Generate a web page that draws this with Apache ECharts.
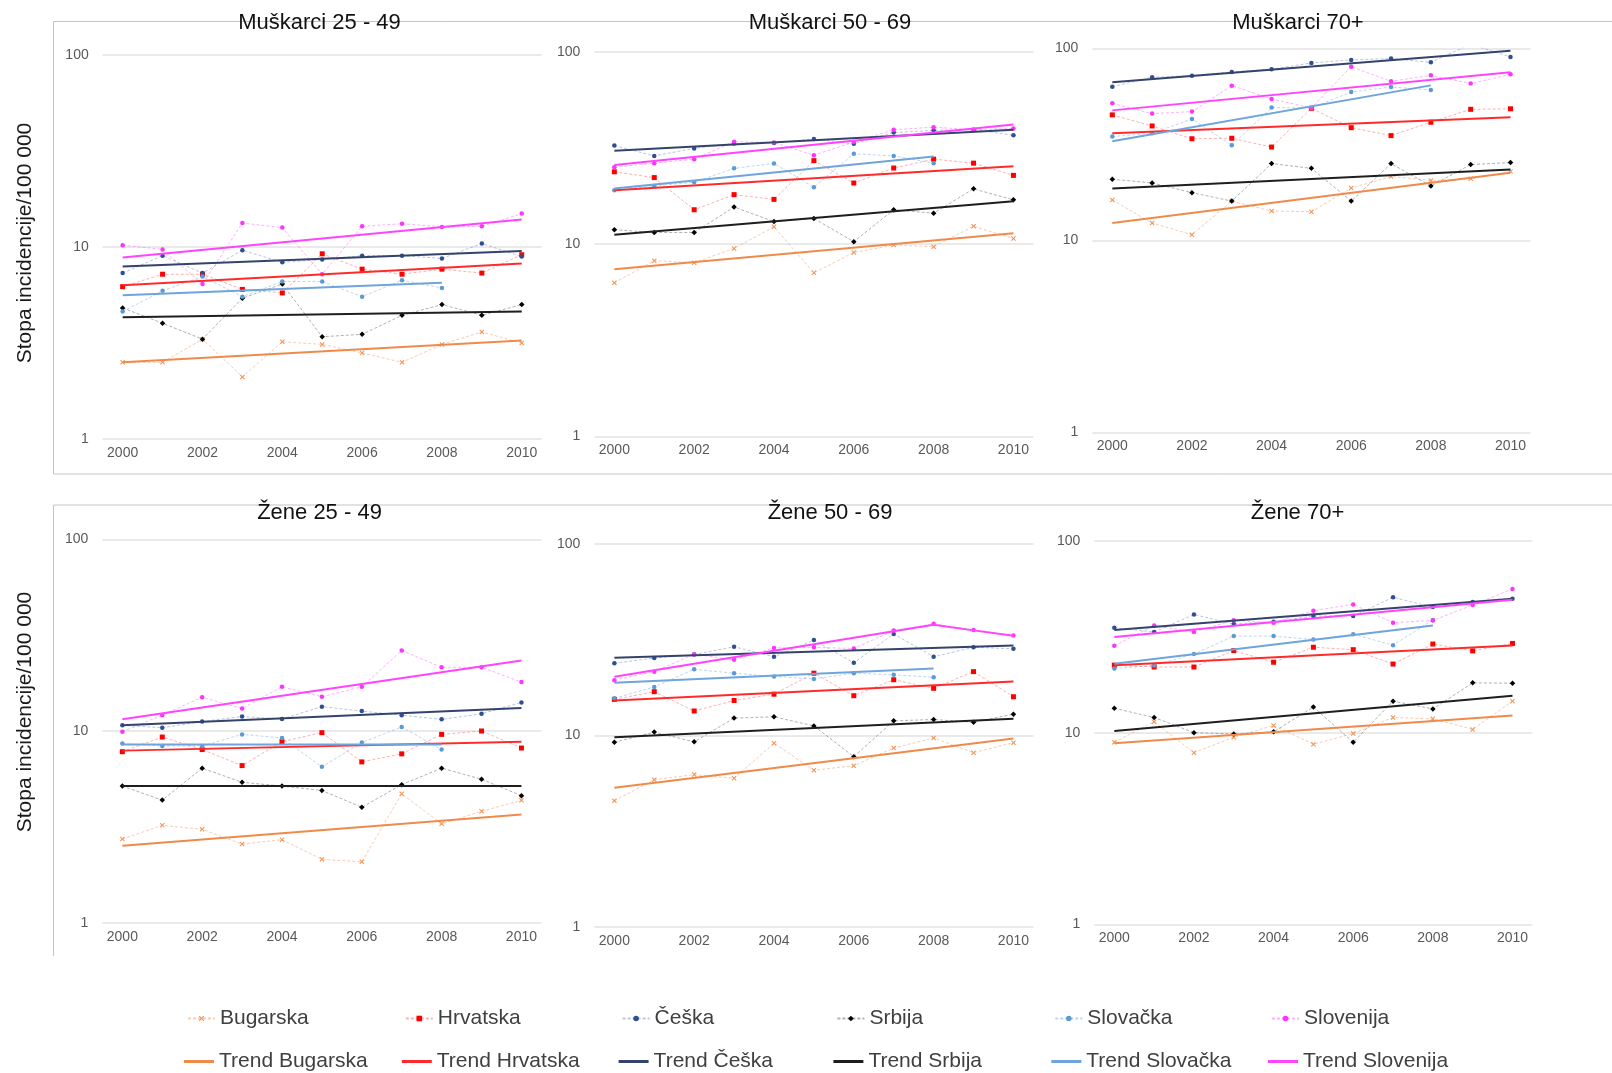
<!DOCTYPE html>
<html>
<head>
<meta charset="utf-8">
<script src="https://cdn.jsdelivr.net/npm/echarts@6/dist/echarts.min.js"></script>
<style>
html,body{margin:0;padding:0;background:#fff;}
#chart{width:1612px;height:1073px;}
</style>
</head>
<body>
<div id="chart"></div>
<script>
// ---------- DATA ----------
const years = ['2000','2001','2002','2003','2004','2005','2006','2007','2008','2009','2010'];
const countries = ['Bugarska','Hrvatska','Češka','Srbija','Slovačka','Slovenija'];
const panelTitles = ['Muškarci 25 - 49','Muškarci 50 - 69','Muškarci 70+','Žene 25 - 49','Žene 50 - 69','Žene 70+'];
const yAxisName = 'Stopa incidencije/100 000';
const _ = null;

// rows: Bugarska, Hrvatska, Češka, Srbija, Slovačka, Slovenija
const valuesM2549 = [
  [2.5, 2.5, 3.3, 2.1, 3.2, 3.1, 2.8, 2.5, 3.1, 3.6, 3.15],
  [6.2, 7.2, 7.2, 6.0, 5.75, 9.2, 7.65, 7.2, 7.65, 7.3, 9.1],
  [7.3, 9.0, 7.3, 9.6, 8.3, 8.6, 9.0, 9.0, 8.7, 10.4, 8.9],
  [4.8, 4.0, 3.3, 5.4, 6.4, 3.4, 3.5, 4.4, 5.0, 4.4, 5.0],
  [4.6, 5.9, 7.0, 5.5, 6.6, 6.6, 5.5, 6.7, 6.1, _, _],
  [10.2, 9.7, 6.4, 13.3, 12.6, 7.2, 12.8, 13.2, 12.7, 12.8, 14.9]
];
const trendM2549 = [
  [2.5, _, _, _, _, _, _, _, _, _, 3.25],
  [6.3, _, _, _, _, _, _, _, _, _, 8.2],
  [7.9, _, _, _, _, _, _, _, _, _, 9.5],
  [4.3, _, _, _, _, _, _, _, _, _, 4.6],
  [5.6, _, _, _, _, _, _, _, 6.5, _, _],
  [8.8, _, _, _, _, _, _, _, _, _, 13.9]
];

const valuesM5069 = [
  [6.3, 8.2, 8.0, 9.5, 12.3, 7.1, 9.05, 9.9, 9.7, 12.4, 10.7],
  [23.8, 22.2, 15.1, 18.1, 17.1, 27.2, 20.8, 24.9, 27.7, 26.4, 22.8],
  [32.6, 28.8, 31.5, 33.4, 33.6, 35.3, 33.3, 38.1, 39.1, 39.4, 36.9],
  [11.9, 11.5, 11.5, 15.6, 13.1, 13.6, 10.3, 15.1, 14.5, 19.4, 17.0],
  [19.1, 20.1, 21.0, 24.8, 26.3, 19.8, 29.5, 28.8, 26.4, _, _],
  [25.1, 26.4, 27.7, 34.1, 33.8, 29.0, 34.0, 39.4, 40.6, 39.4, 40.0]
];
const trendM5069 = [
  [7.4, _, _, _, _, _, _, _, _, _, 11.4],
  [19.1, _, _, _, _, _, _, _, _, _, 25.4],
  [30.6, _, _, _, _, _, _, _, _, _, 39.4],
  [11.2, _, _, _, _, _, _, _, _, _, 16.7],
  [19.5, _, _, _, _, _, _, _, 28.6, _, _],
  [25.8, _, _, _, _, _, _, _, _, _, 42.0]
];

const valuesM70 = [
  [16.2, 12.3, 10.7, 16.0, 14.2, 14.1, 18.7, 21.5, 20.5, 20.9, 22.8],
  [45.0, 39.4, 33.8, 34.0, 30.6, 48.7, 38.6, 35.1, 41.2, 48.1, 48.4],
  [63.1, 70.6, 72.0, 75.3, 77.8, 83.9, 87.0, 88.4, 84.5, 105, 90.1],
  [20.8, 19.9, 17.7, 16.0, 25.1, 23.7, 16.0, 25.1, 19.2, 24.8, 25.4],
  [34.7, 36.1, 42.8, 31.3, 49.1, 48.9, 59.2, 62.9, 60.7, _, _],
  [51.7, 45.7, 46.8, 63.9, 54.5, 48.9, 80.2, 67.3, 72.3, 65.5, 73.2]
];
const trendM70 = [
  [12.3, _, _, _, _, _, _, _, _, _, 22.5],
  [36.1, _, _, _, _, _, _, _, _, _, 43.7],
  [66.5, _, _, _, _, _, _, _, _, _, 97.2],
  [18.6, _, _, _, _, _, _, _, _, _, 23.4],
  [32.8, _, _, _, _, _, _, _, 64.1, _, _],
  [47.5, _, _, _, _, _, _, _, _, _, 75.0]
];

const valuesZ2549 = [
  [2.73, 3.22, 3.07, 2.57, 2.71, 2.14, 2.08, 4.7, 3.28, 3.81, 4.35],
  [7.8, 9.3, 8.0, 6.6, 8.8, 9.8, 6.9, 7.6, 9.6, 10.0, 8.15],
  [10.7, 10.4, 11.2, 11.9, 11.55, 13.4, 12.7, 12.1, 11.5, 12.3, 14.1],
  [5.16, 4.36, 6.4, 5.4, 5.16, 4.9, 4.0, 5.25, 6.4, 5.6, 4.6],
  [8.6, 8.35, 8.35, 9.6, 9.2, 6.5, 8.7, 10.5, 8.0, _, _],
  [9.9, 12.1, 15.0, 13.1, 17.0, 15.1, 17.0, 26.3, 21.5, 21.5, 18.0]
];
const trendZ2549 = [
  [2.52, _, _, _, _, _, _, _, _, _, 3.67],
  [7.9, _, _, _, _, _, _, _, _, _, 8.8],
  [10.7, _, _, _, _, _, _, _, _, _, 13.2],
  [5.16, _, _, _, _, _, _, _, _, _, 5.16],
  [8.5, _, _, _, _, _, _, _, 8.5, _, _],
  [11.5, _, _, _, _, _, _, _, _, _, 23.3]
];

const valuesZ5069 = [
  [4.56, 5.87, 6.24, 5.97, 9.1, 6.57, 6.95, 8.59, 9.7, 8.12, 9.16],
  [15.4, 16.9, 13.4, 15.2, 16.4, 21.1, 16.1, 19.5, 17.6, 21.5, 15.9],
  [23.8, 25.3, 26.4, 29.0, 25.7, 31.4, 23.9, 33.8, 25.7, 28.8, 28.3],
  [9.2, 10.4, 9.25, 12.3, 12.5, 11.2, 7.74, 11.9, 12.1, 11.7, 12.9],
  [15.6, 17.9, 22.1, 21.1, 20.3, 19.7, 21.1, 20.7, 20.1, _, _],
  [19.4, 21.5, 26.5, 24.8, 28.6, 28.8, 28.4, 35.2, 38.2, 35.5, 33.2]
];
const trendZ5069 = [
  [5.33, _, _, _, _, _, _, _, _, _, 9.64],
  [15.2, _, _, _, _, _, _, _, _, _, 19.1],
  [25.4, _, _, _, _, _, _, _, _, _, 29.4],
  [9.76, _, _, _, _, _, _, _, _, _, 12.2],
  [18.8, _, _, _, _, _, _, _, 22.3, _, _],
  [20.2, _, _, _, _, _, _, _, 37.8, 35.3, 33.1]
];

const valuesZ70 = [
  [8.9, 11.4, 7.86, 9.46, 10.9, 8.7, 9.9, 12.0, 11.8, 10.4, 14.6],
  [22.5, 22.0, 22.0, 26.8, 23.3, 27.9, 27.1, 22.8, 29.0, 26.7, 29.2],
  [35.3, 33.5, 41.3, 36.9, 37.9, 40.6, 40.6, 50.8, 45.2, 48.1, 49.9],
  [13.4, 12.0, 10.0, 9.84, 10.1, 13.6, 8.9, 14.6, 13.3, 18.2, 18.1],
  [21.6, 22.4, 25.7, 31.9, 31.9, 30.6, 32.6, 28.6, 38.7, _, _],
  [28.4, 36.2, 33.5, 38.6, 37.5, 43.3, 46.7, 37.5, 38.5, 46.3, 56.2]
];
const trendZ70 = [
  [8.8, _, _, _, _, _, _, _, _, _, 12.3],
  [22.5, _, _, _, _, _, _, _, _, _, 28.5],
  [34.3, _, _, _, _, _, _, _, _, _, 49.9],
  [10.2, _, _, _, _, _, _, _, _, _, 15.6],
  [22.9, _, _, _, _, _, _, _, 36.2, _, _],
  [31.6, _, _, _, _, _, _, _, _, _, 49.3]
];

const panelValues = [valuesM2549, valuesM5069, valuesM70, valuesZ2549, valuesZ5069, valuesZ70];
const panelTrends = [trendM2549, trendM5069, trendM70, trendZ2549, trendZ5069, trendZ70];

// ---------- STYLE ----------
const FONT = 'Liberation Sans, Arial, sans-serif';
const X_SYMBOL = 'path://M0,1.5L1.5,0L5,3.5L8.5,0L10,1.5L6.5,5L10,8.5L8.5,10L5,6.5L1.5,10L0,8.5L3.5,5Z';
const markerColors = ['#F19556', '#FF0000', '#2F4F8F', '#000000', '#5B9BD5', '#FF33FF'];
const dashColors   = ['rgba(244,160,110,0.55)', 'rgba(255,80,80,0.45)', 'rgba(80,110,180,0.4)', 'rgba(60,60,60,0.4)', 'rgba(91,155,213,0.4)', 'rgba(255,80,255,0.45)'];
const trendColors  = ['#F08A4B', '#FF2B2B', '#34436B', '#1E1E1E', '#6FA4DC', '#FF44FF'];
const symbols      = [X_SYMBOL, 'rect', 'circle', 'diamond', 'circle', 'circle'];
const symbolSizes  = [5, 5, 4.5, 5.5, 4.5, 4.5];

const grids = [
  {left: 102.7, top: 55,    width: 439, height: 383.7},
  {left: 594.4, top: 52,    width: 439, height: 384.3},
  {left: 1092.4,top: 48.3,  width: 438, height: 384},
  {left: 102.4, top: 539.3, width: 439, height: 383.4},
  {left: 594.4, top: 543.7, width: 439, height: 383.3},
  {left: 1094.4,top: 541,   width: 438, height: 383.3}
];
const titlePos = [[319.5, 23.5],[830, 23.5],[1298, 23.5],[319.5, 513.5],[830, 513.5],[1297.5, 513.5]];

// ---------- OPTION ----------
const xAxes = [], yAxes = [], series = [], titles = [];
grids.forEach((g, p) => {
  xAxes.push({
    gridIndex: p, type: 'category', data: years, boundaryGap: true,
    axisLine: {show: false}, axisTick: {show: false},
    axisLabel: {interval: 1, color: '#595959', fontSize: 14, fontFamily: FONT, margin: 7},
    splitLine: {show: false}
  });
  yAxes.push({
    gridIndex: p, type: 'log', logBase: 10, min: 1, max: 100,
    axisLine: {show: false}, axisTick: {show: false},
    axisLabel: {color: '#595959', fontSize: 14, fontFamily: FONT, margin: 14},
    splitLine: {show: true, lineStyle: {color: '#E3E3E3', width: 1.5}}
  });
  titles.push({
    text: panelTitles[p], left: titlePos[p][0], top: titlePos[p][1] - 12, textAlign: 'center', padding: 0,
    textStyle: {fontSize: 22, fontWeight: 'normal', color: '#111', fontFamily: FONT}
  });
  countries.forEach((c, i) => {
    series.push({
      name: c, type: 'line', xAxisIndex: p, yAxisIndex: p,
      data: panelValues[p][i], connectNulls: false,
      symbol: symbols[i], symbolSize: symbolSizes[i], showSymbol: true,
      itemStyle: {color: markerColors[i]},
      lineStyle: {color: dashColors[i], width: 1, type: [3, 2]},
      emphasis: {disabled: true}, z: 2
    });
  });
  countries.forEach((c, i) => {
    series.push({
      name: 'Trend ' + c, type: 'line', xAxisIndex: p, yAxisIndex: p,
      data: panelTrends[p][i], connectNulls: true,
      symbol: 'none', showSymbol: false,
      itemStyle: {color: trendColors[i]},
      lineStyle: {color: trendColors[i], width: 2},
      emphasis: {disabled: true}, z: 3
    });
  });
});

const legendTextX = [219, 436.8, 653.6, 868.4, 1086.3, 1303];
const legends = [];
countries.forEach((c, i) => {
  legends.push({
    data: [c], left: legendTextX[i] - 5 - 27, top: 1008, itemWidth: 27, itemHeight: 7, padding: 0,
    textStyle: {fontSize: 21, color: '#404040', fontFamily: FONT}, selectedMode: false
  });
  legends.push({
    data: [{name: 'Trend ' + c, icon: 'rect', itemStyle: {color: trendColors[i]}}],
    left: legendTextX[i] - 5 - 30, top: 1051, itemWidth: 30, itemHeight: 3, padding: 0,
    textStyle: {fontSize: 21, color: '#404040', fontFamily: FONT}, selectedMode: false
  });
});

const frameColor = '#C4C4C4';
const graphic = [
  {type: 'line', shape: {x1: 53.5, y1: 21.5, x2: 1612, y2: 21.5}, style: {stroke: frameColor, lineWidth: 1}, z: -1},
  {type: 'line', shape: {x1: 53.5, y1: 21.5, x2: 53.5, y2: 474}, style: {stroke: frameColor, lineWidth: 1}, z: -1},
  {type: 'line', shape: {x1: 53.5, y1: 474, x2: 1612, y2: 474}, style: {stroke: frameColor, lineWidth: 1}, z: -1},
  {type: 'line', shape: {x1: 53.5, y1: 505, x2: 1612, y2: 505}, style: {stroke: frameColor, lineWidth: 1}, z: -1},
  {type: 'line', shape: {x1: 53.5, y1: 505, x2: 53.5, y2: 956}, style: {stroke: frameColor, lineWidth: 1}, z: -1},
  {type: 'text', x: 25, y: 243, rotation: Math.PI / 2,
   style: {text: yAxisName, fontSize: 21, fill: '#1a1a1a', fontFamily: FONT, textAlign: 'center', textVerticalAlign: 'middle'}},
  {type: 'text', x: 25, y: 712, rotation: Math.PI / 2,
   style: {text: yAxisName, fontSize: 21, fill: '#1a1a1a', fontFamily: FONT, textAlign: 'center', textVerticalAlign: 'middle'}}
];

const chart = echarts.init(document.getElementById('chart'), null, {renderer: 'canvas'});
chart.setOption({
  backgroundColor: '#ffffff',
  animation: false,
  title: titles,
  grid: grids,
  xAxis: xAxes,
  yAxis: yAxes,
  legend: legends,
  graphic: graphic,
  series: series
});
</script>
</body>
</html>
